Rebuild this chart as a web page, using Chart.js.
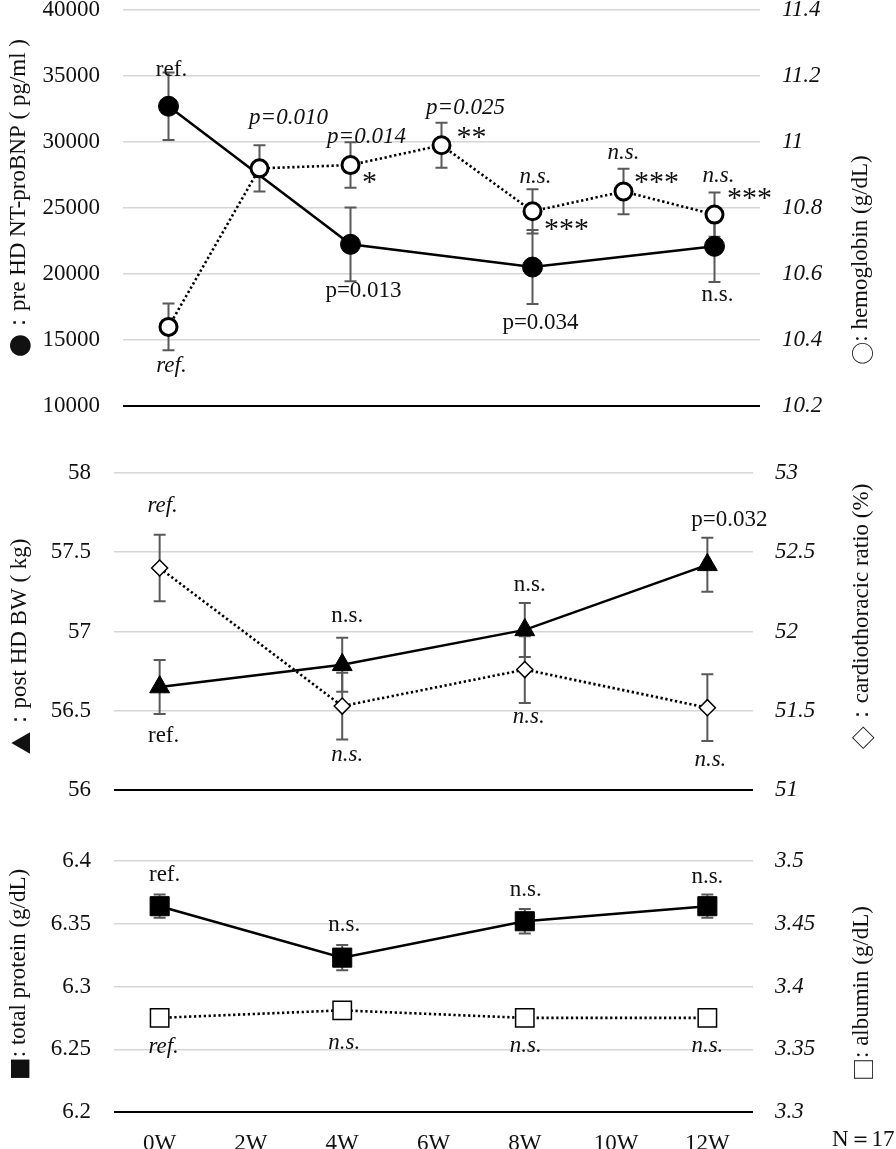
<!DOCTYPE html>
<html>
<head>
<meta charset="utf-8">
<script src="https://cdn.jsdelivr.net/npm/chart.js@4"></script>
<style>
  body { margin: 0; background: #fff; width: 896px; height: 1149px; overflow: hidden; position: relative; }
  canvas { position: absolute; left: 0; }
</style>
</head>
<body>
<canvas id="c1" width="896" height="470" style="top:-27px"></canvas>
<canvas id="c2" width="896" height="391" style="top:436px"></canvas>
<canvas id="c3" width="896" height="329" style="top:820px"></canvas>
<script>
var weeks = ['0W', '2W', '4W', '6W', '8W', '10W', '12W'];

// panel 1: NT-proBNP (left) / hemoglobin (right)
var bnpTicks = [10000, 15000, 20000, 25000, 30000, 35000, 40000];
var hbTicks = [10.2, 10.4, 10.6, 10.8, 11, 11.2, 11.4];
var bnp = [32700, null, 22250, null, 20530, null, 22100];
var bnpErr = [2550, null, 2790, null, 2800, null, 2700];
var hb = [10.44, 10.92, 10.93, 10.99, 10.79, 10.85, 10.78];
var hbErr = [0.071, 0.07, 0.069, 0.068, 0.067, 0.069, 0.067];
var bnpNotes = ['ref.', null, 'p=0.013', null, 'p=0.034', null, 'n.s.'];
var hbNotes = ['ref.', 'p=0.010', 'p=0.014', 'p=0.025', 'n.s.', 'n.s.', 'n.s.'];
var hbStars = [null, null, '*', '**', '***', '***', '***'];

// panel 2: body weight (left) / cardiothoracic ratio (right)
var bwTicks = [56, 56.5, 57, 57.5, 58];
var ctrTicks = [51, 51.5, 52, 52.5, 53];
var bw = [56.65, null, 56.79, null, 57.01, null, 57.42];
var bwErr = [0.17, null, 0.17, null, 0.17, null, 0.17];
var ctr = [52.40, null, 51.53, null, 51.76, null, 51.52];
var ctrErr = [0.21, null, 0.21, null, 0.21, null, 0.21];
var bwNotes = ['ref.', null, 'n.s.', null, 'n.s.', null, 'p=0.032'];
var ctrNotes = ['ref.', null, 'n.s.', null, 'n.s.', null, 'n.s.'];

// panel 3: total protein (left) / albumin (right)
var tpTicks = [6.2, 6.25, 6.3, 6.35, 6.4];
var albTicks = [3.3, 3.35, 3.4, 3.45, 3.5];
var tp = [6.364, null, 6.323, null, 6.352, null, 6.364];
var tpErr = [0.0093, null, 0.0100, null, 0.0097, null, 0.0093];
var alb = [3.375, null, 3.381, null, 3.375, null, 3.375];
var tpNotes = ['ref.', null, 'n.s.', null, 'n.s.', null, 'n.s.'];
var albNotes = ['ref.', null, 'n.s.', null, 'n.s.', null, 'n.s.'];

var sampleSize = 'N＝17';

var SERIF = "'Liberation Serif', 'Times New Roman', serif";
var CJK = "'Noto Sans CJK JP', sans-serif";
Chart.defaults.font.family = SERIF;
Chart.defaults.font.size = 23;
Chart.defaults.color = '#111';

// rotated axis title, marker glyph drawn in the CJK font like the original
function drawTitle(ctx, t, cy) {
    var sym = t.text.charAt(0), rest = t.text.slice(1);
    var symFont = '23px ' + CJK, txtFont = '23px ' + SERIF;
    ctx.font = symFont;
    var w1 = ctx.measureText(sym).width;
    ctx.font = txtFont;
    var w2 = ctx.measureText(rest).width;
    ctx.save();
    ctx.translate(t.x, cy);
    ctx.rotate(-Math.PI / 2);
    ctx.textAlign = 'left';
    ctx.textBaseline = 'middle';
    var x0 = -(w1 + w2) / 2;
    ctx.font = symFont;
    ctx.fillText(sym, x0, 1);
    ctx.font = txtFont;
    ctx.fillText(rest, x0 + w1, 0);
    ctx.restore();
}

// error bars, point notes and titles
var extras = {
    id: 'extras',
    beforeDatasetsDraw: function(chart) {
        var ctx = chart.ctx;
        chart.data.datasets.forEach(function(ds, i) {
            if (!ds.errors) return;
            var meta = chart.getDatasetMeta(i);
            var ys = chart.scales[ds.yAxisID];
            ctx.save();
            ctx.strokeStyle = '#595959';
            ctx.lineWidth = 2;
            meta.data.forEach(function(pt, j) {
                var v = ds.data[j], e = ds.errors[j];
                if (v == null || e == null) return;
                var top = ys.getPixelForValue(v + e), bot = ys.getPixelForValue(v - e);
                ctx.beginPath();
                ctx.moveTo(pt.x, top); ctx.lineTo(pt.x, bot);
                ctx.moveTo(pt.x - 6, top); ctx.lineTo(pt.x + 6, top);
                ctx.moveTo(pt.x - 6, bot); ctx.lineTo(pt.x + 6, bot);
                ctx.stroke();
            });
            ctx.restore();
        });
    },
    afterDatasetsDraw: function(chart, args, opts) {
        var ctx = chart.ctx;
        ctx.save();
        ctx.fillStyle = '#111';
        ctx.textAlign = 'center';
        ctx.textBaseline = 'middle';
        chart.data.datasets.forEach(function(ds, i) {
            var meta = chart.getDatasetMeta(i);
            meta.data.forEach(function(pt, j) {
                if (ds.notes && ds.notes[j]) {
                    var o = ds.noteOffsets[j];
                    ctx.font = (ds.noteItalic ? 'italic ' : '') + '23px ' + SERIF;
                    ctx.fillText(ds.notes[j], pt.x + o[0], pt.y + o[1]);
                }
                if (ds.stars && ds.stars[j]) {
                    var s = ds.starOffsets[j];
                    ctx.font = '30px ' + SERIF;
                    ctx.fillText(ds.stars[j], pt.x + s[0], pt.y + s[1] + 4);
                }
            });
        });
        var area = chart.chartArea;
        var mid = (area.top + area.bottom) / 2;
        ctx.fillStyle = '#111';
        drawTitle(ctx, opts.left, mid + opts.left.dy);
        drawTitle(ctx, opts.right, mid + opts.right.dy);
        if (opts.footer) {
            ctx.textAlign = 'left';
            ctx.textBaseline = 'middle';
            ctx.font = '23px ' + SERIF;
            ctx.fillText(opts.footer.text, opts.footer.x, opts.footer.y);
        }
        ctx.restore();
    }
};

function yAxis(ticks, side, width, italic) {
    return {
        position: side,
        min: ticks[0],
        max: ticks[ticks.length - 1],
        afterBuildTicks: function(s) { s.ticks = ticks.map(function(v) { return { value: v }; }); },
        afterFit: function(s) { s.width = width; },
        border: { display: false },
        grid: side === 'left' ? {
            drawTicks: false,
            color: function(c) { return c.index === 0 ? '#000' : '#d6d6d6'; },
            lineWidth: function(c) { return c.index === 0 ? 2 : 1.5; }
        } : { display: false, drawTicks: false },
        ticks: {
            padding: side === 'left' ? 23 : 22,
            color: '#111',
            font: { style: italic ? 'italic' : 'normal' },
            callback: function(v) { return String(v); }
        }
    };
}

function xAxis(showLabels) {
    return {
        offset: true,
        afterFit: function(s) { s.height = showLabels ? 37 : 4; },
        grid: { display: false },
        border: { display: false },
        ticks: { display: showLabels, padding: 10, color: '#111', maxRotation: 0, autoSkip: false }
    };
}

function solidSet(data, errs, axis, style, radius) {
    return {
        data: data, errors: errs, yAxisID: axis, spanGaps: true, tension: 0, order: 1,
        borderColor: '#000', borderWidth: 2.5,
        pointStyle: style, pointRadius: radius, pointBackgroundColor: '#000',
        pointBorderColor: '#000', pointBorderWidth: 1
    };
}

function dottedSet(data, errs, axis, style, radius, bw) {
    return {
        data: data, errors: errs, yAxisID: axis, spanGaps: true, tension: 0, order: 0,
        borderColor: '#000', borderWidth: 2.6, borderDash: [2.3, 2.6], borderCapStyle: 'butt',
        pointStyle: style, pointRadius: radius, pointBackgroundColor: '#fff',
        pointBorderColor: '#000', pointBorderWidth: bw
    };
}

function baseOptions(padTop, padBottom, leftW, rightW, showLabels, cfg) {
    return {
        responsive: false,
        animation: false,
        layout: { padding: { top: padTop, bottom: padBottom, left: 0, right: 0 } },
        scales: {
            x: xAxis(showLabels),
            y: yAxis(cfg.leftTicks, 'left', leftW, false),
            y2: yAxis(cfg.rightTicks, 'right', rightW, true)
        },
        plugins: {
            legend: { display: false },
            tooltip: { enabled: false },
            extras: cfg.extras
        }
    };
}

// panel 1
var hbSet = dottedSet(hb, hbErr, 'y2', 'circle', 8.5, 3);
hbSet.notes = hbNotes; hbSet.noteItalic = true;
hbSet.noteOffsets = [[3, 39], [29, -50], [16, -28], [24, -37], [3, -34], [0, -39], [4, -39]];
hbSet.stars = hbStars;
hbSet.starOffsets = [null, null, [19, 14], [30, -11], [34, 15], [33, -12], [35, -19]];
var bnpSet = solidSet(bnp, bnpErr, 'y', 'circle', 10);
bnpSet.notes = bnpNotes;
bnpSet.noteOffsets = [[3, -36], null, [13, 47], null, [8, 56], null, [3, 49]];

new Chart(document.getElementById('c1'), {
    type: 'line',
    data: { labels: weeks, datasets: [hbSet, bnpSet] },
    options: baseOptions(0, 0, 123, 136, false, {
        leftTicks: bnpTicks, rightTicks: hbTicks,
        extras: {
            left: { text: '●：pre HD NT-proBNP ( pg/ml )', x: 19, dy: -10 },
            right: { text: '○: hemoglobin (g/dL)', x: 861, dy: 52 }
        }
    }),
    plugins: [extras]
});

// panel 2
var ctrSet = dottedSet(ctr, ctrErr, 'y2', 'rectRot', 8, 1.5);
ctrSet.notes = ctrNotes; ctrSet.noteItalic = true;
ctrSet.noteOffsets = [[3, -62], null, [5, 49], null, [4, 47], null, [3, 52]];
var bwSet = solidSet(bw, bwErr, 'y', 'triangle', 11.5);
bwSet.notes = bwNotes;
bwSet.noteOffsets = [[4, 49], null, [5, -49], null, [5, -45], null, [22, -45]];

new Chart(document.getElementById('c2'), {
    type: 'line',
    data: { labels: weeks, datasets: [ctrSet, bwSet] },
    options: baseOptions(0, 0, 114, 143, false, {
        leftTicks: bwTicks, rightTicks: ctrTicks,
        extras: {
            left: { text: '▲：post HD BW ( kg)', x: 20, dy: 15 },
            right: { text: '◇：cardiothoracic ratio (%)', x: 862, dy: -15 }
        }
    }),
    plugins: [extras]
});

// panel 3
var albSet = dottedSet(alb, null, 'y2', 'rect', 13, 1.5);
albSet.notes = albNotes; albSet.noteItalic = true;
albSet.noteOffsets = [[4, 29], null, [2, 33], null, [1, 28], null, [0, 28]];
var tpSet = solidSet(tp, tpErr, 'y', 'rect', 13.5);
tpSet.notes = tpNotes;
tpSet.noteOffsets = [[5, -31], null, [2, -33], null, [1, -31], null, [0, -29]];

new Chart(document.getElementById('c3'), {
    type: 'line',
    data: { labels: weeks, datasets: [albSet, tpSet] },
    options: baseOptions(41, 0, 114, 143, true, {
        leftTicks: tpTicks, rightTicks: albTicks,
        extras: {
            left: { text: '■: total protein (g/dL)', x: 19, dy: -12 },
            right: { text: '□: albumin (g/dL)', x: 862, dy: 7 },
            footer: { text: sampleSize, x: 832, y: 320 }
        }
    }),
    plugins: [extras]
});
</script>
</body>
</html>
